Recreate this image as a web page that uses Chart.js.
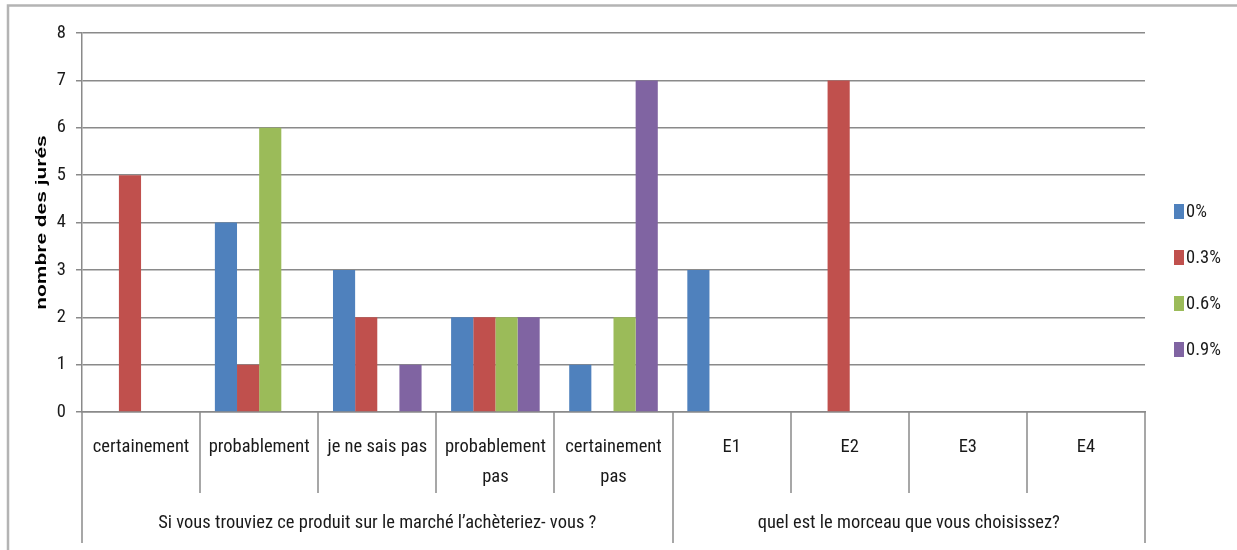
<!DOCTYPE html>
<html><head><meta charset="utf-8">
<script src="https://cdn.jsdelivr.net/npm/chart.js@4.4.1/dist/chart.umd.min.js"></script>
<style>html,body{margin:0;padding:0;background:#fff;}#wrap{width:1237px;height:550px;position:relative;}</style>
</head><body><div id="wrap"><canvas id="c" width="1237" height="550"></canvas></div>
<script>
const categories = ["certainement","probablement","je ne sais pas",["probablement","pas"],["certainement","pas"],"E1","E2","E3","E4"];
const groups = ["Si vous trouviez ce produit sur le marché l’achèteriez- vous ?","quel est le morceau que vous choisissez?"];
const groupSizes = [5,4];
const seriesNames = ["0%","0.3%","0.6%","0.9%"];
const s0 = [0,4,3,2,1,3,0,0,0];
const s03 = [5,1,2,2,0,0,7,0,0];
const s06 = [0,6,0,2,2,0,0,0,0];
const s09 = [0,0,1,2,7,0,0,0,0];
const yTicks = [0,1,2,3,4,5,6,7,8];
const yTitle = "nombre des jurés";
const colors = ["#4F81BD","#C0504D","#9BBB59","#8064A2"];
const FONT = "'Roboto Condensed','Open Sans',sans-serif";
const FS = 18.5;
const GRID = "#8a8a8a";
const TXT = "#1a1a1a";

const decor = {
  id:'decor',
  afterDraw(chart){
    const ctx = chart.ctx, a = chart.chartArea;
    ctx.save();
    // outer frame
    ctx.strokeStyle = "#b4b4b4"; ctx.lineWidth = 2.5;
    ctx.beginPath(); ctx.moveTo(8,560); ctx.lineTo(8,5.5); ctx.lineTo(1240,5.5); ctx.stroke();
    ctx.strokeStyle = GRID; ctx.lineWidth = 1.5;
    const n = categories.length;
    const w = (a.right - a.left)/n;
    let bounds = [0]; let acc = 0; groupSizes.forEach(g=>{acc+=g; bounds.push(acc);});
    for(let i=0;i<=n;i++){
      const px = Math.round(a.left + i*w);
      const isGroup = bounds.includes(i);
      ctx.beginPath(); ctx.moveTo(px, a.bottom); ctx.lineTo(px, isGroup ? 543 : 493); ctx.stroke();
    }
    // group labels
    ctx.fillStyle = TXT; ctx.font = FS + "px " + FONT; ctx.textAlign = "center"; ctx.textBaseline = "middle";
    for(let g=0; g<groups.length; g++){
      const cx = a.left + (bounds[g]+bounds[g+1])/2*w;
      ctx.fillText(groups[g], cx, 523);
    }
    // legend
    const ly = [211,257,303,349];
    ctx.textAlign = "left";
    seriesNames.forEach((s,i)=>{
      ctx.fillStyle = colors[i];
      ctx.fillRect(1174, ly[i]-7, 10, 15);
      ctx.fillStyle = TXT;
      ctx.fillText(s, 1186, ly[i]+1);
    });
    // y-axis title (rotated)
    ctx.save();
    ctx.translate(42, (a.top + a.bottom)/2);
    ctx.rotate(-Math.PI/2);
    ctx.scale(1.35, 1);
    ctx.font = "bold 15.5px 'Liberation Sans',sans-serif";
    ctx.fillStyle = "#000"; ctx.textAlign = "center"; ctx.textBaseline = "middle";
    ctx.fillText(yTitle, 0, 0);
    ctx.restore();
    ctx.restore();
  }
};

new Chart(document.getElementById('c'), {
  type:'bar',
  data:{
    labels: categories,
    datasets:[s0,s03,s06,s09].map((d,i)=>({label:seriesNames[i], data:d, backgroundColor:colors[i], borderWidth:0, barPercentage:1, categoryPercentage:0.75}))
  },
  options:{
    responsive:false, animation:false,
    layout:{padding:{left:0,top:33,right:92,bottom:0}},
    plugins:{legend:{display:false}, tooltip:{enabled:false}},
    scales:{
      x:{
        grid:{display:false},
        border:{color:GRID, width:1.5},
        ticks:{autoSkip:false, maxRotation:0, minRotation:0, color:TXT, font:{family:FONT, size:FS, lineHeight:1.62}, padding:12},
        afterFit(s){ s.height = 138; }
      },
      y:{
        min:0, max:8,
        afterBuildTicks(s){ s.ticks = yTicks.map(v=>({value:v})); },
        grid:{color:GRID, lineWidth:1.5, tickLength:6},
        border:{color:GRID, width:1.5},
        ticks:{color:TXT, font:{family:FONT, size:FS}, padding:10},
        afterFit(s){ s.width = 82; }
      }
    }
  },
  plugins:[decor]
});
</script></body></html>
